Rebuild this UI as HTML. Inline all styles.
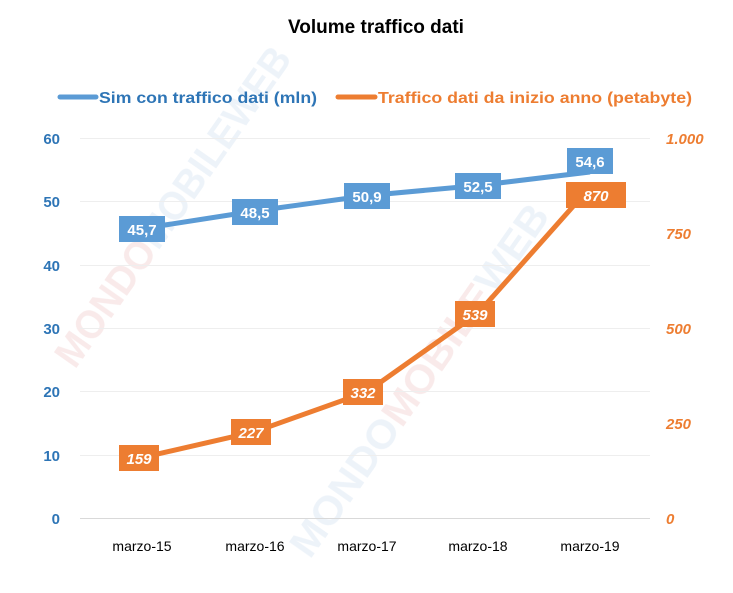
<!DOCTYPE html>
<html><head><meta charset="utf-8"><style>
body{margin:0;background:#fff}
svg text{font-family:"Liberation Sans",sans-serif}
</style></head><body>
<svg width="733" height="588" viewBox="0 0 733 588" xmlns="http://www.w3.org/2000/svg">
<rect width="733" height="588" fill="#fff"/>
<text x="376" y="33" font-size="19" font-weight="bold" text-anchor="middle" fill="#000">Volume traffico dati</text>
<!-- watermark -->
<g font-size="40" font-weight="bold" opacity="0.3">
<text x="75" y="370" transform="rotate(-55 75 370)" fill="#e9b9b9" textLength="380" lengthAdjust="spacingAndGlyphs">MONDO<tspan fill="#c4d7ec">MOBILE</tspan><tspan fill="#c4d7ec">WEB</tspan></text>
<text x="310" y="560" transform="rotate(-55 310 560)" fill="#c4d7ec" textLength="420" lengthAdjust="spacingAndGlyphs">MONDO<tspan fill="#e9b9b9">MOBILE</tspan>WEB</text>
</g>
<!-- legend -->
<line x1="60" y1="97" x2="96" y2="97" stroke="#5B9BD5" stroke-width="5" stroke-linecap="round"/>
<text x="99" y="103" font-size="16" font-weight="bold" fill="#2E75B6" textLength="218" lengthAdjust="spacingAndGlyphs">Sim con traffico dati (mln)</text>
<line x1="338" y1="97" x2="375" y2="97" stroke="#ED7D31" stroke-width="5" stroke-linecap="round"/>
<text x="378" y="103" font-size="16" font-weight="bold" fill="#ED7D31" textLength="314" lengthAdjust="spacingAndGlyphs">Traffico dati da inizio anno (petabyte)</text>
<!-- grid -->
<g stroke="#eeeeee" stroke-width="1">
<line x1="80" y1="138.5" x2="650" y2="138.5"/>
<line x1="80" y1="201.5" x2="650" y2="201.5"/>
<line x1="80" y1="265.5" x2="650" y2="265.5"/>
<line x1="80" y1="328.5" x2="650" y2="328.5"/>
<line x1="80" y1="391.5" x2="650" y2="391.5"/>
<line x1="80" y1="455.5" x2="650" y2="455.5"/>
</g>
<line x1="80" y1="518.5" x2="650" y2="518.5" stroke="#d9d9d9"/>
<g font-size="15" font-weight="bold" fill="#2E75B6" text-anchor="end">
<text x="60" y="144">60</text><text x="60" y="207">50</text><text x="60" y="271">40</text>
<text x="60" y="334">30</text><text x="60" y="397">20</text><text x="60" y="461">10</text><text x="60" y="524">0</text>
</g>
<g font-size="15" font-weight="bold" font-style="italic" fill="#ED7D31">
<text x="666" y="144">1.000</text><text x="666" y="239">750</text><text x="666" y="334">500</text>
<text x="666" y="429">250</text><text x="666" y="524">0</text>
</g>
<g font-size="14" fill="#000" text-anchor="middle">
<text x="142" y="551">marzo-15</text><text x="255" y="551">marzo-16</text><text x="367" y="551">marzo-17</text>
<text x="478" y="551">marzo-18</text><text x="590" y="551">marzo-19</text>
</g>
<!-- series -->
<polyline points="142,228.6 255,211 367,195.6 478,185.5 590,172" fill="none" stroke="#5B9BD5" stroke-width="5" stroke-linejoin="round"/>
<polyline points="142,457.6 255,431.7 367,391.8 478,313.2 590,187.4" fill="none" stroke="#ED7D31" stroke-width="5" stroke-linejoin="round"/>
<g font-size="15" font-weight="bold" fill="#fff" text-anchor="middle">
<rect x="119" y="216" width="46" height="26" fill="#5B9BD5"/><text x="142" y="235">45,7</text>
<rect x="232" y="199" width="46" height="26" fill="#5B9BD5"/><text x="255" y="218">48,5</text>
<rect x="344" y="183" width="46" height="26" fill="#5B9BD5"/><text x="367" y="202">50,9</text>
<rect x="455" y="173" width="46" height="26" fill="#5B9BD5"/><text x="478" y="192">52,5</text>
<rect x="567" y="148" width="46" height="26" fill="#5B9BD5"/><text x="590" y="167">54,6</text>
</g>
<g font-size="15" font-weight="bold" font-style="italic" fill="#fff" text-anchor="middle">
<rect x="119" y="445" width="40" height="26" fill="#ED7D31"/><text x="139" y="464">159</text>
<rect x="231" y="419" width="40" height="26" fill="#ED7D31"/><text x="251" y="438">227</text>
<rect x="343" y="379" width="40" height="26" fill="#ED7D31"/><text x="363" y="398">332</text>
<rect x="455" y="301" width="40" height="26" fill="#ED7D31"/><text x="475" y="320">539</text>
<rect x="566" y="182" width="60" height="26" fill="#ED7D31"/><text x="596" y="201">870</text>
</g>
</svg>
</body></html>
